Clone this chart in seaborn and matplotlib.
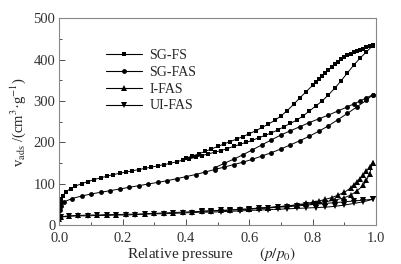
import seaborn as sns
import matplotlib.pyplot as plt
from matplotlib.lines import Line2D
from matplotlib.ticker import MultipleLocator

# Isotherm data (p/p0, adsorbed volume cm3/g)
sgfs_ads_p = [0.0, 0.002, 0.004, 0.006, 0.01, 0.02, 0.035, 0.05, 0.07, 0.09, 0.11, 0.13, 0.15, 0.17,
              0.19, 0.21, 0.23, 0.25, 0.27, 0.29, 0.31, 0.33, 0.35, 0.37, 0.39, 0.41, 0.43, 0.45, 0.47,
              0.49, 0.51, 0.53, 0.55, 0.57, 0.59, 0.61, 0.63, 0.65, 0.67, 0.69, 0.71, 0.73, 0.75, 0.77,
              0.79, 0.81, 0.83, 0.85, 0.87, 0.89, 0.91, 0.93, 0.95, 0.97, 0.99]
sgfs_ads_v = [20, 38, 52, 62, 70, 80, 88, 94, 100, 105, 110, 114, 118, 122,
              125, 128, 131, 134, 137, 140, 143, 146, 149, 153, 157, 160, 164, 168, 172,
              176, 180, 185, 190, 195, 200, 205, 211, 217, 223, 230, 238, 246, 254, 264,
              276, 288, 300, 315, 331, 349, 368, 387, 404, 419, 434]
sgfs_des_p = [0.99, 0.98, 0.97, 0.96, 0.95, 0.94, 0.93, 0.92, 0.91, 0.90, 0.89, 0.88, 0.87, 0.86,
              0.85, 0.84, 0.83, 0.82, 0.81, 0.80, 0.78, 0.76, 0.74, 0.72, 0.70, 0.68, 0.66, 0.64,
              0.62, 0.60, 0.58, 0.56, 0.54, 0.52, 0.50, 0.48, 0.46, 0.44, 0.42, 0.40]
sgfs_des_v = [436, 433, 430, 427, 424, 421, 418, 415, 411, 406, 401, 395, 389, 382,
              375, 368, 361, 354, 346, 338, 323, 308, 292, 277, 264, 253, 244, 236,
              228, 221, 214, 208, 202, 196, 190, 184, 178, 172, 167, 162]

sgfas_ads_p = [0.0, 0.003, 0.006, 0.015, 0.04, 0.07, 0.10, 0.13, 0.16, 0.19, 0.22, 0.25, 0.28,
               0.31, 0.34, 0.37, 0.40, 0.43, 0.46, 0.49, 0.52, 0.55, 0.58, 0.61, 0.64, 0.67,
               0.70, 0.73, 0.76, 0.79, 0.82, 0.85, 0.88, 0.91, 0.94, 0.97, 0.99]
sgfas_ads_v = [20, 36, 47, 56, 64, 70, 75, 79, 83, 87, 91, 95, 99,
               103, 107, 112, 117, 122, 128, 134, 140, 146, 152, 159, 167, 175,
               184, 194, 204, 215, 227, 240, 255, 270, 286, 302, 315]
sgfas_des_p = [0.99, 0.97, 0.95, 0.93, 0.91, 0.88, 0.85, 0.82, 0.79, 0.76, 0.73, 0.70, 0.67,
               0.64, 0.61, 0.58, 0.55, 0.52, 0.49]
sgfas_des_v = [315, 308, 300, 293, 286, 276, 266, 257, 248, 238, 228, 218, 206,
               194, 182, 170, 159, 149, 138]

ifas_ads_p = [0.0, 0.005, 0.03, 0.06, 0.09, 0.12, 0.15, 0.18, 0.21, 0.24, 0.27, 0.30, 0.33,
              0.36, 0.39, 0.42, 0.45, 0.48, 0.51, 0.54, 0.57, 0.60, 0.63, 0.66, 0.69, 0.72,
              0.75, 0.78, 0.81, 0.84, 0.87, 0.90, 0.92, 0.94, 0.96, 0.97, 0.98, 0.99]
ifas_ads_v = [15, 20, 22, 23, 24, 24, 25, 25, 26, 26, 27, 28, 29,
              30, 31, 32, 33, 34, 35, 36, 38, 39, 41, 42, 44, 46,
              48, 50, 53, 56, 60, 66, 72, 82, 96, 108, 124, 150]
ifas_des_p = [0.99, 0.98, 0.97, 0.96, 0.95, 0.94, 0.93, 0.92, 0.90, 0.88, 0.86, 0.84, 0.82,
              0.80, 0.78, 0.75, 0.72, 0.69, 0.66, 0.63, 0.60]
ifas_des_v = [150, 140, 130, 120, 112, 104, 96, 89, 79, 72, 66, 62, 58,
              55, 52, 49, 46, 44, 42, 40, 39]

uifas_ads_p = [0.0, 0.005, 0.03, 0.06, 0.09, 0.12, 0.15, 0.18, 0.21, 0.24, 0.27, 0.30, 0.33,
               0.36, 0.39, 0.42, 0.45, 0.48, 0.51, 0.54, 0.57, 0.60, 0.63, 0.66, 0.69, 0.72,
               0.75, 0.78, 0.81, 0.84, 0.87, 0.90, 0.93, 0.96, 0.99]
uifas_ads_v = [15, 19, 21, 22, 22, 23, 23, 24, 24, 25, 26, 27, 27,
               28, 29, 30, 31, 31, 32, 33, 34, 35, 36, 37, 38, 39,
               40, 41, 42, 43, 45, 48, 52, 56, 62]
uifas_des_p = [0.99, 0.96, 0.93, 0.90, 0.87, 0.84, 0.81, 0.78, 0.75, 0.72, 0.69, 0.66, 0.63,
               0.60, 0.57, 0.54, 0.51, 0.48, 0.45]
uifas_des_v = [62, 60, 58, 56, 54, 52, 50, 48, 46, 44, 43, 41, 40,
               38, 37, 36, 35, 34, 33]

series = [
    ("SG-FS", "s", 3.2, sgfs_ads_p, sgfs_ads_v, sgfs_des_p, sgfs_des_v),
    ("SG-FAS", "o", 3.5, sgfas_ads_p, sgfas_ads_v, sgfas_des_p, sgfas_des_v),
    ("I-FAS", "^", 4.2, ifas_ads_p, ifas_ads_v, ifas_des_p, ifas_des_v),
    ("UI-FAS", "v", 4.2, uifas_ads_p, uifas_ads_v, uifas_des_p, uifas_des_v),
]

sns.set_style("ticks")
plt.rcParams["font.family"] = ["Liberation Serif", "DejaVu Serif"]
plt.rcParams["mathtext.fontset"] = "stix"

fig = plt.figure(figsize=(4.02, 2.64), dpi=100)
ax = fig.add_axes([0.148, 0.148, 0.787, 0.782])

handles = []
for name, mk, ms, ap, av, dp, dv in series:
    for px, py in ((ap, av), (dp, dv)):
        sns.lineplot(x=px, y=py, sort=False, ax=ax, color="black", linewidth=0.7,
                     marker=mk, markersize=ms, markeredgewidth=0, estimator=None)
    handles.append(Line2D([], [], color="black", linewidth=0.8, marker=mk, markersize=ms,
                          markeredgewidth=0, label=name))

ax.set_xlim(0, 1)
ax.set_ylim(0, 500)
ax.xaxis.set_major_locator(MultipleLocator(0.2))
ax.xaxis.set_minor_locator(MultipleLocator(0.1))
ax.yaxis.set_major_locator(MultipleLocator(100))
ax.yaxis.set_minor_locator(MultipleLocator(50))
ax.xaxis.set_major_formatter(lambda x, pos: f"{x:.1f}")
ax.tick_params(which="both", direction="in", labelsize=10.5, colors="#333333")
ax.tick_params(axis="y", pad=3)
ax.tick_params(axis="x", pad=5)
ax.tick_params(which="major", length=4, width=0.6)
ax.tick_params(which="minor", length=2, width=0.6)
for s in ax.spines.values():
    s.set_color("#888888")
    s.set_linewidth(0.8)
    s.set_visible(True)

ax.set_xlabel(r"Relative pressure       $(p/p_0)$", fontsize=11)
ax.xaxis.set_label_coords(0.48, -0.095)
ax.set_ylabel(r"v$_{\rm ads}$ /(cm$^3$·g$^{-1}$)", fontsize=10.5)
ax.yaxis.set_label_coords(-0.1, 0.5)

ax.legend(handles=handles, loc="upper left", bbox_to_anchor=(0.13, 0.88), frameon=False,
          fontsize=10, handlelength=2.6, handletextpad=0.5, labelspacing=0.28, borderaxespad=0)

fig.savefig("out.png", dpi=100)
